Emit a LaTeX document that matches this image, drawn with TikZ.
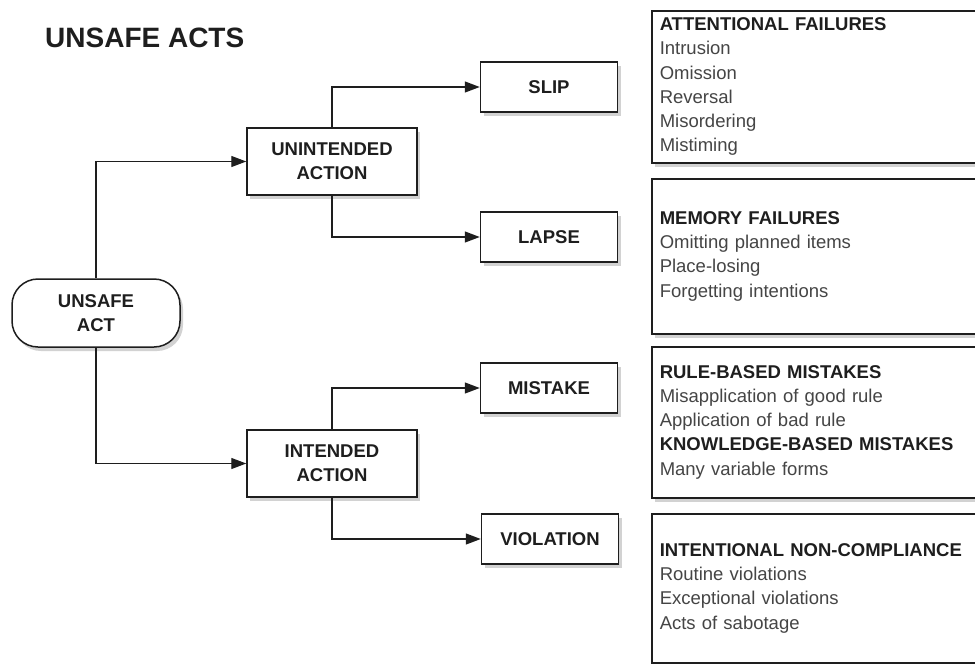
\documentclass[tikz,border=0pt]{standalone}
\usepackage{fontspec}
\setmainfont{Liberation Sans}
\usetikzlibrary{arrows.meta,shadows}
\definecolor{inkgray}{HTML}{1E1E1E}
\definecolor{listgray}{HTML}{454545}
\newcommand{\listhead}[1]{\textbf{\color{inkgray}#1}}

\begin{document}
\begin{tikzpicture}[x=1pt, y=-1pt,
every node/.style={text=inkgray},
shade box/.style={draw=inkgray, line width=1.5pt, fill=white,
  drop shadow={shadow xshift=3pt, shadow yshift=-4pt, opacity=0.25, fill=black!70}},
act box/.style={shade box, align=center, inner sep=0pt, font=\fontsize{18.5}{24}\selectfont\bfseries},
leaf box/.style={act box, minimum width=137pt, minimum height=50pt},
mid box/.style={act box, minimum width=170pt, minimum height=67pt},
info box/.style={shade box, anchor=north west, text width=330pt, align=left,
  inner xsep=8pt, inner ysep=0pt, text=listgray, font=\fontsize{18.5}{24.2}\selectfont},
link/.style={draw=inkgray, line width=1.3pt, -{Triangle[length=15pt,width=11pt]}}]
\path[use as bounding box, fill=white] (0,0) rectangle (975,664);
\node[anchor=base west, inner sep=0pt, font=\fontsize{28}{32}\selectfont\bfseries] (title) at (45,47) {UNSAFE ACTS};
\node[act box, rounded corners=26pt, minimum width=168pt, minimum height=68pt] (act) at (96,313) {UNSAFE\\ACT};
\node[mid box] (unint) at (332,161.5) {UNINTENDED\\ACTION};
\node[mid box] (int) at (332,463.5) {INTENDED\\ACTION};
\node[leaf box] (slip) at (549,87) {SLIP};
\node[leaf box] (lapse) at (549,237) {LAPSE};
\node[leaf box] (mistake) at (549,388) {MISTAKE};
\node[leaf box] (violation) at (550,539) {VIOLATION};
\node[info box, minimum height=152pt] (attn) at (651,10) {\listhead{ATTENTIONAL FAILURES}\\Intrusion\\Omission\\Reversal\\Misordering\\Mistiming};
\node[info box, minimum height=155pt] (memory) at (651,178) {\listhead{MEMORY FAILURES}\\Omitting planned items\\Place-losing\\Forgetting intentions};
\node[info box, minimum height=151pt] (rules) at (651,346) {\listhead{RULE-BASED MISTAKES}\\Misapplication of good rule\\Application of bad rule\\\listhead{KNOWLEDGE-BASED MISTAKES}\\Many variable forms};
\node[info box, minimum height=149pt] (noncomp) at (651,513) {\listhead{INTENTIONAL NON-COMPLIANCE}\\Routine violations\\Exceptional violations\\Acts of sabotage};
\draw[link] (act.north) |- (unint.west);
\draw[link] (act.south) |- (int.west);
\draw[link] (unint.north) |- (slip.west);
\draw[link] (unint.south) |- (lapse.west);
\draw[link] (int.north) |- (mistake.west);
\draw[link] (int.south) |- (violation.west);
\end{tikzpicture}
\end{document}
